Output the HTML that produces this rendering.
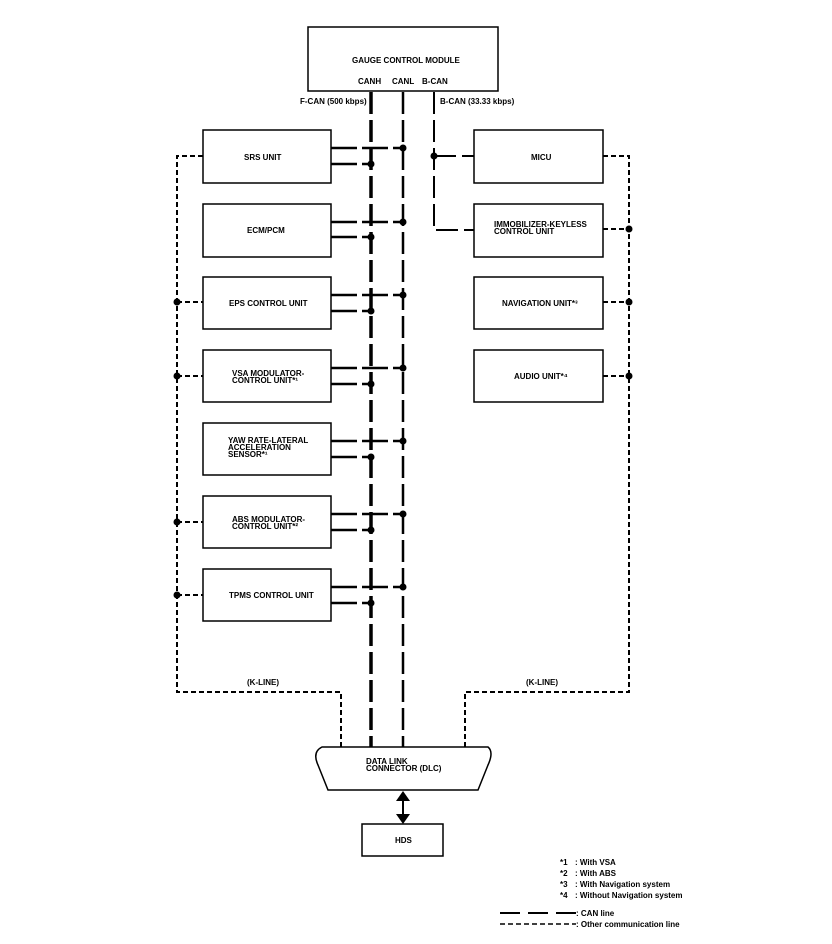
<!DOCTYPE html>
<html><head><meta charset="utf-8"><style>
html,body{margin:0;padding:0;background:#fff;}
svg{display:block;}
text{font-family:"Liberation Sans",sans-serif;font-weight:bold;font-size:8px;fill:#000;}
</style></head><body>
<svg width="832" height="944" viewBox="0 0 832 944" xmlns="http://www.w3.org/2000/svg">
<g fill="none" stroke="#000" stroke-width="1.5">
<rect x="308" y="27" width="190" height="64"/>
<rect x="203" y="130" width="128" height="53"/>
<rect x="203" y="204" width="128" height="53"/>
<rect x="203" y="277" width="128" height="52"/>
<rect x="203" y="350" width="128" height="52"/>
<rect x="203" y="423" width="128" height="52"/>
<rect x="203" y="496" width="128" height="52"/>
<rect x="203" y="569" width="128" height="52"/>
<rect x="474" y="130" width="129" height="53"/>
<rect x="474" y="204" width="129" height="53"/>
<rect x="474" y="277" width="129" height="52"/>
<rect x="474" y="350" width="129" height="52"/>
<rect x="362" y="824" width="81" height="32"/>
<path d="M322 747 L488 747 Q494 752 488 765 L478 790 L328 790 L318 765 Q312 752 322 747 Z"/>
</g>
<!-- CAN vertical lines -->
<g fill="none" stroke="#000">
<line x1="371" y1="92" x2="371" y2="747" stroke-width="3.5" stroke-dasharray="22,6"/>
<line x1="403" y1="92" x2="403" y2="747" stroke-width="2.5" stroke-dasharray="22,6"/>
<polyline points="434,92 434,230 474,230" stroke-width="2" stroke-dasharray="22,6"/>
<line x1="434" y1="156" x2="474" y2="156" stroke-width="2" stroke-dasharray="22,6"/>
</g>
<!-- stubs -->
<g fill="none" stroke="#000" stroke-width="2.5" stroke-dasharray="26,5">
<line x1="331" y1="148" x2="403" y2="148"/><line x1="331" y1="164" x2="371" y2="164"/>
<line x1="331" y1="222" x2="403" y2="222"/><line x1="331" y1="237" x2="371" y2="237"/>
<line x1="331" y1="295" x2="403" y2="295"/><line x1="331" y1="311" x2="371" y2="311"/>
<line x1="331" y1="368" x2="403" y2="368"/><line x1="331" y1="384" x2="371" y2="384"/>
<line x1="331" y1="441" x2="403" y2="441"/><line x1="331" y1="457" x2="371" y2="457"/>
<line x1="331" y1="514" x2="403" y2="514"/><line x1="331" y1="530" x2="371" y2="530"/>
<line x1="331" y1="587" x2="403" y2="587"/><line x1="331" y1="603" x2="371" y2="603"/>
</g>
<g fill="#000">
<circle cx="403" cy="148" r="3.5"/><circle cx="371" cy="164" r="3.5"/>
<circle cx="403" cy="222" r="3.5"/><circle cx="371" cy="237" r="3.5"/>
<circle cx="403" cy="295" r="3.5"/><circle cx="371" cy="311" r="3.5"/>
<circle cx="403" cy="368" r="3.5"/><circle cx="371" cy="384" r="3.5"/>
<circle cx="403" cy="441" r="3.5"/><circle cx="371" cy="457" r="3.5"/>
<circle cx="403" cy="514" r="3.5"/><circle cx="371" cy="530" r="3.5"/>
<circle cx="403" cy="587" r="3.5"/><circle cx="371" cy="603" r="3.5"/>
<circle cx="434" cy="156" r="3.5"/>
<circle cx="177" cy="302" r="3.5"/><circle cx="177" cy="376" r="3.5"/>
<circle cx="177" cy="522" r="3.5"/><circle cx="177" cy="595" r="3.5"/>
<circle cx="629" cy="229" r="3.5"/><circle cx="629" cy="302" r="3.5"/><circle cx="629" cy="376" r="3.5"/>
</g>
<!-- K-lines -->
<g fill="none" stroke="#000" stroke-width="2" stroke-dasharray="5,3">
<polyline points="203,156 177,156 177,692 341,692 341,747"/>
<line x1="177" y1="302" x2="203" y2="302"/><line x1="177" y1="376" x2="203" y2="376"/>
<line x1="177" y1="522" x2="203" y2="522"/><line x1="177" y1="595" x2="203" y2="595"/>
<polyline points="603,156 629,156 629,692 465,692 465,747"/>
<line x1="603" y1="229" x2="629" y2="229"/><line x1="603" y1="302" x2="629" y2="302"/>
<line x1="603" y1="376" x2="629" y2="376"/>
</g>
<!-- arrow -->
<line x1="403" y1="800" x2="403" y2="816" stroke="#000" stroke-width="2"/>
<polygon points="403,791 396,801 410,801"/>
<polygon points="403,824 396,814 410,814"/>
<!-- texts -->
<text x="352" y="63">GAUGE CONTROL MODULE</text>
<text x="358" y="84">CANH</text><text x="392" y="84">CANL</text><text x="422" y="84">B-CAN</text>
<text x="300" y="104">F-CAN (500 kbps)</text>
<text x="440" y="104">B-CAN (33.33 kbps)</text>
<text x="244" y="160">SRS UNIT</text>
<text x="247" y="233">ECM/PCM</text>
<text x="229" y="306">EPS CONTROL UNIT</text>
<text x="232" y="376">VSA MODULATOR-</text><text x="232" y="383">CONTROL UNIT*¹</text>
<text x="228" y="443">YAW RATE-LATERAL</text><text x="228" y="450">ACCELERATION</text><text x="228" y="457">SENSOR*¹</text>
<text x="232" y="522">ABS MODULATOR-</text><text x="232" y="529">CONTROL UNIT*²</text>
<text x="229" y="598">TPMS CONTROL UNIT</text>
<text x="531" y="160">MICU</text>
<text x="494" y="227">IMMOBILIZER-KEYLESS</text><text x="494" y="234">CONTROL UNIT</text>
<text x="502" y="306">NAVIGATION UNIT*³</text>
<text x="514" y="379">AUDIO UNIT*⁴</text>
<text x="247" y="685">(K-LINE)</text>
<text x="526" y="685">(K-LINE)</text>
<text x="366" y="764">DATA LINK</text><text x="366" y="771">CONNECTOR (DLC)</text>
<text x="395" y="843">HDS</text>
<text x="560" y="865">*1</text><text x="575" y="865">: With VSA</text>
<text x="560" y="876">*2</text><text x="575" y="876">: With ABS</text>
<text x="560" y="887">*3</text><text x="575" y="887">: With Navigation system</text>
<text x="560" y="898">*4</text><text x="575" y="898">: Without Navigation system</text>
<line x1="500" y1="913" x2="576" y2="913" stroke="#000" stroke-width="2" stroke-dasharray="20,8"/>
<text x="576" y="916">: CAN line</text>
<line x1="500" y1="924" x2="576" y2="924" stroke="#000" stroke-width="1.5" stroke-dasharray="5,3"/>
<text x="576" y="927">: Other communication line</text>
</svg>
</body></html>
